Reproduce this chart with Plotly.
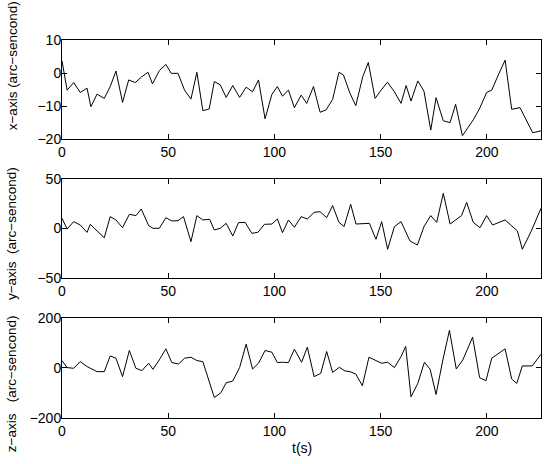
import plotly.graph_objects as go
from plotly.subplots import make_subplots

# ---- data ----
t_x = [0, 2.4, 5.5, 8.6, 11.8, 13.6, 16.5, 19.9, 22.7, 25.4, 28.5, 31.4, 34.5, 37.6, 40.5, 42.6,
       45.8, 48.9, 51.4, 54.6, 57.7, 60.7, 63.5, 66.3, 69.3, 71.7, 74.5, 77.3, 80.4, 83.6, 86.7,
       89.7, 92.5, 95.6, 98.8, 101.4, 103.8, 106.6, 109.4, 112.6, 115.2, 118.4, 121.5, 124.3,
       127.4, 130.4, 132.5, 135.6, 138.3, 141.6, 144.2, 147.4, 150.2, 153.2, 156.3, 159.6, 162.0,
       164.3, 167.5, 170.4, 173.6, 176.1, 179.5, 182.7, 185.3, 188.5, 193.6, 196.5, 199.9, 202.3,
       205.4, 208.6, 211.7, 215.6, 221.6, 225.5]
x_axis = [3.7, -5.2, -2.9, -5.9, -4.6, -10.2, -6.4, -7.7, -4.1, 0.6, -8.9, -2.1, -2.9, -1.1, 0.2,
          -3.3, 0.7, 2.6, -0.1, -0.1, -5.2, -7.9, 0.2, -11.4, -10.9, -2.6, -3.6, -7.4, -3.8, -7.4,
          -4.3, -5.7, -2.1, -13.9, -6.5, -4.1, -7.0, -5.2, -10.5, -6.7, -9.2, -4.1, -11.9, -11.2,
          -8.0, 0.2, -0.6, -6.2, -9.9, -1.1, 3.2, -7.7, -5.2, -2.8, -5.5, -9.2, -3.8, -8.5, -2.4,
          -5.5, -17.3, -7.5, -14.5, -15.0, -9.5, -19.0, -14.2, -10.9, -5.9, -5.2, -0.6, 3.9,
          -11.0, -10.5, -18.1, -17.5]

t_y = [0, 2.4, 5.5, 8.6, 11.8, 13.3, 16.5, 19.9, 22.7, 25.4, 28.5, 31.7, 34.8, 37.3, 40.8, 42.8,
       45.8, 48.9, 51.7, 54.6, 57.2, 60.7, 63.5, 66.3, 69.5, 71.7, 74.5, 77.3, 80.4, 83.1, 86.2,
       89.4, 92.2, 95.3, 98.8, 101.4, 103.8, 106.6, 109.4, 112.6, 115.5, 118.7, 121.5, 124.6,
       127.4, 130.4, 132.8, 135.9, 138.4, 141.6, 144.7, 147.8, 150.5, 153.3, 156.5, 159.6, 163.8,
       167.3, 170.4, 173.6, 176.4, 179.5, 182.7, 188.1, 190.5, 193.6, 196.8, 199.9, 202.7, 208.6,
       214.4, 216.7, 220.8, 225.5]
y_axis = [10.3, -0.5, 6.9, 3.5, -3.9, 4.2, -2.5, -9.3, 12.0, 8.6, 0.8, 14.3, 13.0, 19.7, 2.9, 0.2,
          0.2, 10.9, 7.6, 7.9, 12.0, -13.3, 13.0, 8.6, 9.3, -1.5, 0.2, 5.2, -7.6, 5.9, 6.2, -4.9,
          -3.9, 4.2, 4.5, 9.6, -4.2, 8.6, 1.2, 12.0, 9.6, 16.3, 17.0, 10.9, 23.1, 6.2, 1.9, 24.4,
          4.5, 4.5, 5.2, -10.9, 6.9, -21.0, 1.9, 6.9, -12.6, -16.7, 1.9, 13.0, 6.2, 35.5, 4.5,
          13.0, 26.4, 6.2, 0.8, 13.0, 3.5, 8.6, -2.5, -21.0, -3.2, 20.4]

t_z = [0, 2.4, 5.5, 8.6, 11.8, 16.5, 19.9, 22.7, 25.4, 28.5, 31.7, 34.8, 37.6, 40.8, 42.8, 45.8,
       48.9, 51.7, 54.9, 57.7, 60.7, 63.5, 66.3, 69.3, 71.7, 74.8, 77.3, 80.4, 83.6, 86.7, 89.7,
       92.5, 95.6, 98.8, 101.4, 103.8, 106.6, 109.4, 112.8, 115.5, 118.7, 121.8, 124.6, 127.4,
       130.6, 133.2, 135.6, 138.3, 141.4, 144.5, 147.7, 150.5, 153.3, 156.5, 159.6, 161.8, 164.3,
       167.5, 170.6, 173.3, 176.1, 179.3, 182.4, 185.6, 188.7, 193.3, 196.6, 199.6, 202.3, 205.4,
       208.6, 211.7, 214.1, 216.7, 221.4, 225.5]
z_axis = [29.6, 1.5, -1.2, 25.6, 5.5, -14.6, -14.6, 48.4, 39.0, -34.7, 69.9, -1.2, -10.6, 18.9,
          -5.2, 32.3, 76.6, 21.6, 16.2, 39.0, 43.1, 29.6, 25.6, -50.8, -117.9, -99.1, -58.9, -52.2,
          1.5, 95.4, -3.9, 18.9, 69.9, 63.2, 21.6, 22.9, 21.6, 75.3, 22.9, 83.3, -34.7, -21.3,
          65.9, -17.3, 2.8, -11.9, -14.6, -24.0, -71.0, 43.1, 29.6, 18.9, 22.9, 1.5, 45.7, 86.0,
          -115.2, -61.6, 22.9, -5.2, -105.8, 32.3, 150.4, -3.9, 32.3, 123.5, -38.8, -50.8, 39.0,
          59.2, 76.6, -44.1, -61.6, 8.2, 8.2, 55.1]

x_ticks = [0, 50, 100, 150, 200]
y_ranges = [[-20, 10], [-50, 50], [-200, 200]]
y_tickvals = [[-20, -10, 0, 10], [-50, 0, 50], [-200, 0, 200]]
y_titles = ["x\u2212axis (arc\u2212sencond)",
            "y\u2212axis\u00a0\u00a0(arc\u2212sencond)",
            "z\u2212axis\u00a0\u00a0\u00a0(arc\u2212sencond)"]

FONT = "Liberation Sans, Arial, sans-serif"
FS = 14
FS_TITLE = 13.5

fig = make_subplots(rows=3, cols=1, vertical_spacing=0.1)
for i, (t, v) in enumerate([(t_x, x_axis), (t_y, y_axis), (t_z, z_axis)]):
    fig.add_trace(go.Scatter(x=t, y=v, mode="lines",
                             line=dict(color="black", width=1), showlegend=False),
                  row=i + 1, col=1)

domains = [[0.7381, 1.0], [0.3704, 0.6323], [0.0, 0.2646]]
title_y = [0.931, 0.487, 0.090]
for i in range(3):
    n = "" if i == 0 else str(i + 1)
    axis_common = dict(showgrid=False, zeroline=False, showline=True, linecolor="black",
                       linewidth=1, mirror="ticks", ticks="inside", ticklen=5,
                       tickcolor="black", automargin=False,
                       tickfont=dict(family=FONT, size=FS, color="black"))
    fig.layout["xaxis" + n].update(range=[0, 225.5], tickvals=x_ticks,
                                   ticklabelstandoff=0, **axis_common)
    fig.layout["yaxis" + n].update(range=y_ranges[i], tickvals=y_tickvals[i],
                                   domain=domains[i], ticklabelstandoff=-3, **axis_common)
    fig.add_annotation(text=y_titles[i], xref="paper", yref="paper", x=-0.104, y=title_y[i],
                       textangle=-90, showarrow=False, xanchor="center", yanchor="middle",
                       font=dict(family=FONT, size=FS_TITLE, color="black"))

fig.add_annotation(text="t(s)", xref="paper", yref="paper", x=0.5, y=-0.079,
                   showarrow=False, xanchor="center", yanchor="middle",
                   font=dict(family=FONT, size=FS, color="black"))

fig.update_layout(width=550, height=464, margin=dict(l=62, r=9, t=40, b=46),
                  plot_bgcolor="white", paper_bgcolor="white",
                  font=dict(family=FONT, size=FS, color="black"))

# remove the page's default 8px body margin so the figure fills the window exactly
fig.write_html("out.html", config={"displayModeBar": False},
               post_script="document.body.style.margin='0';")
